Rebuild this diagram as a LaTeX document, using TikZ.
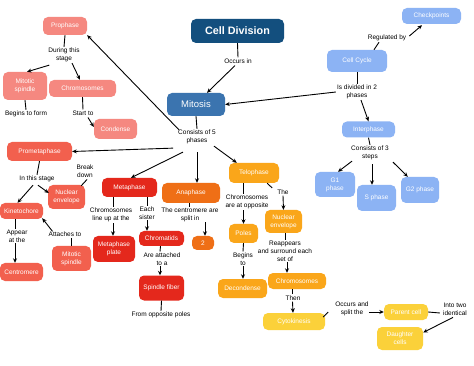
\documentclass[tikz,border=0pt]{standalone}
\usepackage{fontspec}
\setmainfont{Liberation Sans}
\usetikzlibrary{arrows.meta,calc}
\definecolor{cdblue}{HTML}{134F7E}
\definecolor{mblue}{HTML}{3B74AF}
\definecolor{lblue}{HTML}{8CB3F4}
\definecolor{pinkc}{HTML}{F58880}
\definecolor{redone}{HTML}{F2604E}
\definecolor{redtwo}{HTML}{E4281C}
\definecolor{orngc}{HTML}{EF6F16}
\definecolor{amberc}{HTML}{FAA61A}
\definecolor{yellc}{HTML}{FBD13A}
\tikzset{
  box/.style={rounded corners=5pt, text=white, align=center, inner sep=1pt,
    font=\fontsize{6.5}{8}\selectfont},
  lbl/.style={align=center, inner sep=1pt, text=black, font=\fontsize{6.5}{7.8}\selectfont},
  arr/.style={-{Stealth[length=4.5pt,width=4pt]}, line width=0.9pt},
  ln/.style={line width=0.9pt},
  sz/.style 2 args={minimum width=#1pt, minimum height=#2pt},
}
\begin{document}
\begin{tikzpicture}[x=1pt,y=-1pt]
\fill[white] (0,0) rectangle (474,366);
\useasboundingbox (0,0) rectangle (474,366);
% top
\node[box, fill=cdblue, sz={93}{24}, font=\fontsize{10.8}{12}\selectfont\bfseries] (celldiv) at (237.5,31) {Cell Division};
\node[lbl] (occurs) at (238,61) {Occurs in};
\node[box, fill=mblue, sz={58}{23}, font=\fontsize{9.5}{11}\selectfont] (mitosis) at (196,104.5) {Mitosis};
% interphase side
\node[box, fill=lblue, sz={60}{22}] (cellcycle) at (357,61) {Cell Cycle};
\node[box, fill=lblue, sz={59}{16}] (checkpoints) at (431.5,16) {Checkpoints};
\node[lbl] (regby) at (387,38) {Regulated by};
\node[lbl] (divided) at (357,92) {Is divided in 2\\phases};
\node[box, fill=lblue, sz={53}{16}] (interphase) at (368.5,129.5) {Interphase};
\node[lbl] (cons3) at (370,153) {Consists of 3\\steps};
\node[box, fill=lblue, sz={40}{25}] (g1) at (335,184.5) {G1\\phase};
\node[box, fill=lblue, sz={39}{26}] (sph) at (376.5,198) {S phase};
\node[box, fill=lblue, sz={38}{26}] (g2) at (420,190) {G2 phase};
% prophase
\node[box, fill=pinkc, sz={44}{18}] (prophase) at (65,26) {Prophase};
\node[lbl] (during) at (64,55) {During this\\stage};
\node[box, fill=pinkc, sz={44}{28}] (mspindle1) at (25,86) {Mitotic\\spindle};
\node[box, fill=pinkc, sz={67}{17}] (chromo1) at (82.5,88.5) {Chromosomes};
\node[lbl] (begins) at (26,114) {Begins to form};
\node[lbl] (startto) at (83,113) {Start to};
\node[box, fill=pinkc, sz={43}{20}] (condense) at (115.5,129) {Condense};
% consists of 5
\node[lbl] (cons5) at (197,137) {Consists of 5\\phases};
% prometaphase
\node[box, fill=redone, sz={65}{19}] (prometa) at (39.5,151.5) {Prometaphase};
\node[lbl] (inthis) at (37,179) {In this stage};
\node[box, fill=redone, sz={37}{24}] (nucenv1) at (66.5,197) {Nuclear\\envelope};
\node[lbl] (breakdown) at (85,171) {Break\\down};
\node[box, fill=redone, sz={43}{16}] (kineto) at (21.5,211) {Kinetochore};
\node[lbl] (appear) at (17,236) {Appear\\at the};
\node[box, fill=redone, sz={43}{18}] (centromere) at (21.5,272) {Centromere};
\node[lbl] (attaches) at (65,234) {Attaches to};
\node[box, fill=redone, sz={39}{25}] (mspindle2) at (71.5,258.5) {Mitotic\\spindle};
% metaphase
\node[box, fill=redtwo, sz={55}{19}] (metaphase) at (129.5,187.5) {Metaphase};
\node[lbl] (lineup) at (111,215) {Chromosomes\\line up at the};
\node[box, fill=redtwo, sz={42}{26}] (mplate) at (114,249) {Metaphase\\plate};
\node[lbl] (eachsister) at (147,213) {Each\\sister};
\node[box, fill=redtwo, sz={45}{15}] (chromatids) at (161.5,238.5) {Chromatids};
\node[lbl] (attached) at (162,259) {Are attached\\to a};
\node[box, fill=redtwo, sz={45}{25}] (spfiber) at (161.5,288) {Spindle fiber};
\node[lbl] (fromopp) at (161,315) {From opposite poles};
% anaphase
\node[box, fill=orngc, sz={58}{20}] (anaphase) at (191,193) {Anaphase};
\node[lbl] (centsplit) at (190,215) {The centromere are\\split in};
\node[box, fill=orngc, sz={22}{14}] (two) at (203,243) {2};
% telophase
\node[box, fill=amberc, sz={50}{20}] (telophase) at (254,173) {Telophase};
\node[lbl] (atopp) at (247,202) {Chromosomes\\are at opposite};
\node[box, fill=amberc, sz={29}{19}] (poles) at (243.5,233.5) {Poles};
\node[lbl] (the) at (283,192) {The};
\node[box, fill=amberc, sz={37}{23}] (nucenv2) at (283.5,221.5) {Nuclear\\envelope};
\node[lbl] (reappears) at (285,251) {Reappears\\and surround each\\set of};
\node[box, fill=amberc, sz={58}{16}] (chromo2) at (297,281) {Chromosomes};
\node[lbl] (beginsto) at (243,259) {Begins\\to};
\node[box, fill=amberc, sz={49}{19}] (decondense) at (242.5,288.5) {Decondense};
\node[lbl] (then) at (293,298) {Then};
% cytokinesis
\node[box, fill=yellc, sz={62}{17}] (cytokinesis) at (294,321.5) {Cytokinesis};
\node[lbl] (occsplit) at (352,309) {Occurs and\\split the};
\node[box, fill=yellc, sz={44}{16}] (parent) at (406,312) {Parent cell};
\node[lbl] (intotwo) at (455,309) {Into two\\identical};
\node[box, fill=yellc, sz={46}{23}] (daughter) at (400,338.5) {Daughter\\cells};

% connectors: top
\draw[ln] (celldiv.south) -- (occurs.north);
\draw[arr] ($(occurs.south)+(-3,1)$) -- ($(mitosis.north)+(11,0)$);
\draw[ln] ($(cellcycle.north)+(17,0)$) -- ($(regby.south)+(-8,0)$);
\draw[arr] ($(regby.east)+(2,-2)$) -- ($(checkpoints.south)+(-9.5,1)$);
\draw[ln] (cellcycle.south) -- (divided.north);
\draw[arr] (divided.west) -- (mitosis.east);
\draw[arr] ($(divided.south)+(4,0)$) -- (interphase.north);
\draw[ln] (interphase.south) -- (cons3.north);
\draw[arr] ($(cons3.south west)+(2,0)$) -- ($(g1.north)+(3,0)$);
\draw[arr] ($(cons3.south)+(2,3)$) -- ($(sph.north)+(-4.5,0)$);
\draw[arr] ($(cons3.south east)+(3,1)$) -- ($(g2.north west)+(7,0)$);
% mitosis phases
\draw[ln] (mitosis.south) -- (cons5.north);
\draw[arr] ($(cons5.north west)+(2,1)$) -- (prophase.south east);
\draw[arr] ($(cons5.south west)+(-4,3)$) -- (prometa.east);
\draw[arr] ($(cons5.south)+(-14,7)$) -- ($(metaphase.north)+(1.5,0)$);
\draw[arr] ($(cons5.south)+(0,7)$) -- ($(anaphase.north)+(6,0)$);
\draw[arr] ($(cons5.south east)+(-3,1)$) -- ($(telophase.north west)+(8,0)$);
% prophase
\draw[ln] (prophase.south) -- (during.north);
\draw[arr] ($(during.south west)+(2,2)$) -- ($(mspindle1.north)+(2,0)$);
\draw[arr] ($(during.south)+(8,0)$) -- ($(chromo1.north)+(-2.5,0)$);
\draw[ln] (mspindle1.south) -- (begins.north);
\draw[ln] (chromo1.south) -- (startto.north);
\draw[arr] ($(startto.south)+(5,1)$) -- ($(condense.west)+(0,-2)$);
% prometaphase
\draw[ln] (prometa.south) -- (inthis.north);
\draw[arr] ($(inthis.south)+(-4,2)$) -- ($(kineto.north)+(-4,0)$);
\draw[arr] ($(inthis.south)+(1,2)$) -- ($(nucenv1.west)+(1,-4)$);
\draw[ln] ($(nucenv1.north east)+(-4,1)$) -- ($(breakdown.south)+(2,1)$);
\draw[ln] ($(kineto.south)+(-6.5,0)$) -- ($(appear.north)+(-2,0)$);
\draw[arr] ($(appear.south)+(-2,0)$) -- ($(centromere.north)+(-6.5,0)$);
\draw[ln] (mspindle2.north) -- ($(attaches.south)+(6.5,0)$);
\draw[arr] ($(attaches.north west)+(5,1)$) -- ($(kineto.south east)+(-1,-1)$);
% metaphase
\draw[ln] ($(metaphase.south)+(-16.5,0)$) -- ($(lineup.north)+(2,0)$);
\draw[arr] ($(lineup.south)+(2,0)$) -- ($(mplate.north)+(-1,0)$);
\draw[ln] ($(metaphase.south)+(17.5,0)$) -- (eachsister.north);
\draw[arr] (eachsister.south) -- ($(chromatids.north)+(-14.5,0)$);
\draw[ln] ($(chromatids.south)+(-1,0)$) -- ($(attached.north)+(-2,0)$);
\draw[arr] ($(attached.south)+(-2,0)$) -- ($(spfiber.north)+(-1.5,0)$);
\draw[ln] (spfiber.south) -- (fromopp.north);
% anaphase
\draw[ln] ($(anaphase.south)+(-2,0)$) -- ($(centsplit.north)+(-1,0)$);
\draw[arr] ($(centsplit.south)+(15,-1)$) -- ($(two.north)+(2,0)$);
% telophase
\draw[ln] ($(telophase.south)+(-11,0)$) -- ($(atopp.north)+(-4,0)$);
\draw[arr] ($(atopp.south)+(-3.5,0)$) -- (poles.north);
\draw[ln] ($(telophase.south east)+(-12,0)$) -- ($(the.west)+(-4,-4)$);
\draw[arr] (the.south) -- (nucenv2.north);
\draw[ln] ($(nucenv2.south)+(1.5,0)$) -- (reappears.north);
\draw[arr] ($(reappears.south)+(2,0)$) -- ($(chromo2.north)+(-10,0)$);
\draw[ln] (poles.south) -- (beginsto.north);
\draw[arr] (beginsto.south) -- ($(decondense.north)+(0.5,0)$);
\draw[ln] ($(chromo2.south)+(-4.5,0)$) -- ($(then.north)+(-0.5,0)$);
\draw[arr] ($(then.south)+(-0.5,0)$) -- ($(cytokinesis.north)+(-1,0)$);
% cytokinesis
\draw[ln] ($(cytokinesis.east)+(-2,-4.5)$) -- ($(occsplit.west)+(-6,3)$);
\draw[arr] ($(occsplit.east)+(-1,3)$) -- (parent.west);
\draw[ln] (parent.east) -- ($(intotwo.west)+(-2,4)$);
\draw[arr] ($(intotwo.south)+(-2,1)$) -- ($(daughter.east)+(0,-6)$);
\end{tikzpicture}
\end{document}
